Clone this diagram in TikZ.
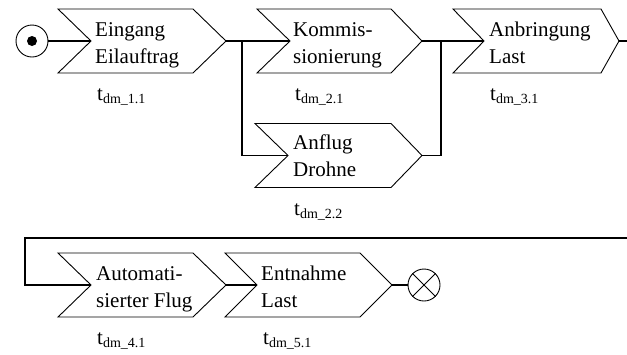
\documentclass[tikz,border=0pt]{standalone}
\usepackage{fontspec}
\setmainfont{Liberation Serif}
\tikzset{
  chevline/.style={draw=black, line width=0.9pt, line join=miter},
  conn/.style={draw=black, line width=1.3pt},
  txt/.style={anchor=base west, inner sep=0pt, align=left, font=\fontsize{21}{26.5}\selectfont},
  lab/.style={anchor=base west, inner sep=0pt, font=\fontsize{21}{24}\selectfont},
}
\newcommand\mychev[6]{% name, left x, center y, body right x, tip x, notch x
  \draw[chevline] (#2,#3-32) -- (#4,#3-32) -- (#5,#3) -- (#4,#3+32) -- (#2,#3+32) -- (#6,#3) -- cycle;
  \coordinate (#1-in) at (#6,#3);
  \coordinate (#1-out) at (#5,#3);
}
\newcommand\tsub[1]{t\raisebox{-3.5pt}{\fontsize{14}{14}\selectfont #1}}
\begin{document}
\begin{tikzpicture}[x=1pt, y=-1pt]
\useasboundingbox (0,0) rectangle (627,354);
% start
\node[circle, draw, line width=0.9pt, minimum size=32pt, inner sep=0pt] (start) at (32,41) {};
\fill (start.center) circle (5pt);
% chevrons
\mychev{c1}{58}{41}{193}{226}{91}
\mychev{c2}{257}{41}{391}{422}{290}
\mychev{c22}{255}{155.5}{391}{422}{288}
\mychev{c3}{453}{41}{601}{619}{484}
\mychev{c4}{58}{285}{193}{226}{91}
\mychev{c5}{225}{285}{360}{392}{257}
% texts (anchor = baseline of the last line)
\node[txt] (t1) at (95,63) {Eingang\\Eilauftrag};
\node[txt] (t2) at (293,63) {Kommis-\\sionierung};
\node[txt] (t22) at (293,176) {Anflug\\Drohne};
\node[txt] (t3) at (489,63) {Anbringung\\Last};
\node[txt] (t4) at (96,307) {Automati-\\sierter Flug};
\node[txt] (t5) at (261,307) {Entnahme\\Last};
% labels
\node[lab] (l1) at (97,100) {\tsub{dm\_1.1}};
\node[lab] (l2) at (295,100) {\tsub{dm\_2.1}};
\node[lab] (l22) at (294,215) {\tsub{dm\_2.2}};
\node[lab] (l3) at (490,100) {\tsub{dm\_3.1}};
\node[lab] (l4) at (97,344) {\tsub{dm\_4.1}};
\node[lab] (l5) at (263,344) {\tsub{dm\_5.1}};
% end
\node[circle, draw, line width=0.9pt, minimum size=32pt, inner sep=0pt] (stop) at (424,285) {};
\draw[line width=0.9pt] (stop.north west) -- (stop.south east) (stop.north east) -- (stop.south west);
% connectors
\coordinate (j1) at (242,41);
\coordinate (j2) at (441,41);
\coordinate (e3) at (627,41);
\coordinate (r1) at (627,238);
\coordinate (r2) at (25,238);
\draw[conn] (start) -- (c1-in);
\draw[conn] (c1-out) -- (c2-in);
\draw[conn] (j1) |- (c22-in);
\draw[conn] (c2-out) -- (c3-in);
\draw[conn] (c22-out) -| (j2);
\draw[conn] (c3-out) -- (e3);
\draw[conn] (r1) -- (r2) |- (c4-in);
\draw[conn] (c4-out) -- (c5-in);
\draw[conn] (c5-out) -- (stop);
\end{tikzpicture}
\end{document}
